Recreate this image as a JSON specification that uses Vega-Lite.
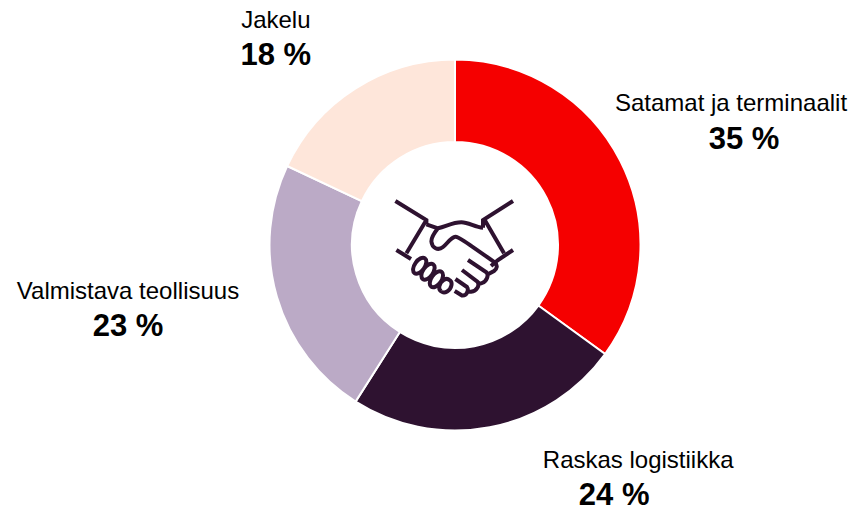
{"$schema":"https://vega.github.io/schema/vega-lite/v6.json","width":792,"height":490,"autosize":{"type":"none"},"padding":{"left":59,"top":0,"right":0,"bottom":18},"background":"white","view":{"stroke":null},
"data":{"values":[{"sector":"Satamat ja terminaalit","share":35,"pct":"35 %"},{"sector":"Raskas logistiikka","share":24,"pct":"24 %"},{"sector":"Valmistava teollisuus","share":23,"pct":"23 %"},{"sector":"Jakelu","share":18,"pct":"18 %"}]},
"transform":[{"stack":"share","groupby":[],"sort":[{"field":"share","order":"descending"}],"as":["s0","s1"]}],
"encoding":{"theta":{"field":"s0","type":"quantitative","scale":{"domain":[0,100]},"stack":null},"theta2":{"field":"s1"}},
"layer":[
{"mark":{"type":"arc","outerRadius":185.5,"innerRadius":103,"stroke":"white","strokeWidth":2},"encoding":{"color":{"field":"sector","type":"nominal","legend":null,"scale":{"domain":["Satamat ja terminaalit","Raskas logistiikka","Valmistava teollisuus","Jakelu"],"range":["#f50000","#2e1230","#bbaac6","#fee6da"]}}}},
{"transform":[{"filter":"datum.sector==='Satamat ja terminaalit'"}],"mark":{"type":"text","radius":240,"dx":276,"dy":99,"font":"Liberation Sans","fontSize":24,"align":"center","baseline":"middle","color":"black"},"encoding":{"text":{"field":"sector"}}},
{"transform":[{"filter":"datum.sector==='Raskas logistiikka'"}],"mark":{"type":"text","radius":240,"dx":-11,"dy":75,"font":"Liberation Sans","fontSize":24,"align":"center","baseline":"middle","color":"black"},"encoding":{"text":{"field":"sector"}}},
{"transform":[{"filter":"datum.sector==='Valmistava teollisuus'"}],"mark":{"type":"text","radius":240,"dx":-198.4,"dy":-155.6,"font":"Liberation Sans","fontSize":24,"align":"center","baseline":"middle","color":"black"},"encoding":{"text":{"field":"sector"}}},
{"transform":[{"filter":"datum.sector==='Jakelu'"}],"mark":{"type":"text","radius":240,"dx":38,"dy":-122,"font":"Liberation Sans","fontSize":24,"align":"center","baseline":"middle","color":"black"},"encoding":{"text":{"field":"sector"}}},
{"transform":[{"filter":"datum.sector==='Satamat ja terminaalit'"}],"mark":{"type":"text","radius":240,"dx":289,"dy":135,"font":"Liberation Sans","fontSize":31,"fontWeight":"bold","align":"center","baseline":"middle","color":"black"},"encoding":{"text":{"field":"pct"}}},
{"transform":[{"filter":"datum.sector==='Raskas logistiikka'"}],"mark":{"type":"text","radius":240,"dx":-35,"dy":110,"font":"Liberation Sans","fontSize":31,"fontWeight":"bold","align":"center","baseline":"middle","color":"black"},"encoding":{"text":{"field":"pct"}}},
{"transform":[{"filter":"datum.sector==='Valmistava teollisuus'"}],"mark":{"type":"text","radius":240,"dx":-198.4,"dy":-120.6,"font":"Liberation Sans","fontSize":31,"fontWeight":"bold","align":"center","baseline":"middle","color":"black"},"encoding":{"text":{"field":"pct"}}},
{"transform":[{"filter":"datum.sector==='Jakelu'"}],"mark":{"type":"text","radius":240,"dx":38,"dy":-87,"font":"Liberation Sans","fontSize":31,"fontWeight":"bold","align":"center","baseline":"middle","color":"black"},"encoding":{"text":{"field":"pct"}}},
{"transform":[{"filter":"datum.sector==='Jakelu'"}],"mark":{"type":"point","filled":false,"size":4,"stroke":"#2e1230","strokeWidth":4,"opacity":1,"shape":"M-59.6 -44L-28.6 -25L-28.6 -20.7M-28.6 -25L-48.6 8.3M-58.6 5L-44 14M58 -44L28 -25L28 -17.3M29.7 -25L49 8.3M58 5L43 15L36 21M-28.6 -20.7L-17 -16.7C-8 -19 -2 -22.7 6.4 -22.7C14 -22.7 20 -17.5 28 -17.3M-17 -16.7C-20 -13 -24 -8 -23.6 -3.3C-23 3 -17 6 -12 2C-8 -1 -4 -8 0.4 -8.3C3 -8.5 8 -5 39.7 17.3C43 20 42 24 39 26L33 29.3M13 15L31.4 27.3C34 30 32 36 27 38C25 39 23 38 22.4 36.7M7 25L22.4 36.7C25 40 22 46 16 46.7C14 47 13 46 11 45M0.4 34L12 42C14 45 12 51 7 50.5L-0.3 46M-40.5 28.1A9 5 -55 1 0 -30.1 13.3A9 5 -55 1 0 -40.5 28.1M-32.2 34.1A9 5 -55 1 0 -21.8 19.3A9 5 -55 1 0 -32.2 34.1M-23.8 41.7A9 5 -55 1 0 -13.4 26.9A9 5 -55 1 0 -23.8 41.7M-13.6 46.4A7 5 -55 1 0 -5.6 35A7 5 -55 1 0 -13.6 46.4"}}
]}
